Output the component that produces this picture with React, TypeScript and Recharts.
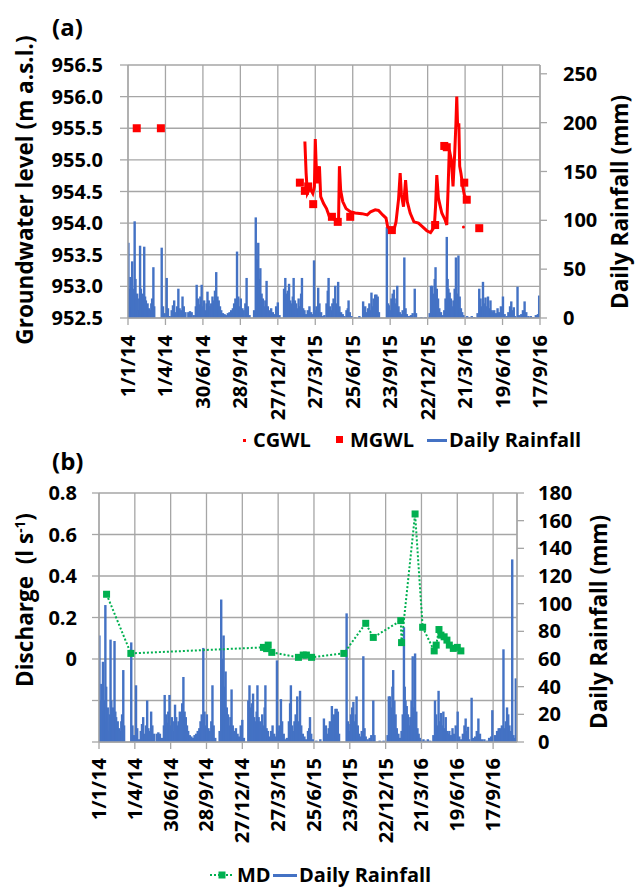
import React from 'react'
import { ComposedChart, Bar, Line, XAxis, YAxis, CartesianGrid } from 'recharts'

// x values are days counted from 1/1/14
const dateTicks = [0, 90, 180, 270, 360, 450, 540, 630, 720, 810, 900, 990]
const dateLabels = ['1/1/14', '1/4/14', '30/6/14', '28/9/14', '27/12/14', '27/3/15', '25/6/15', '23/9/15', '22/12/15', '21/3/16', '19/6/16', '17/9/16']

const gwlTicks = [952.5, 953, 953.5, 954, 954.5, 955, 955.5, 956, 956.5]
const rainTicksA = [0, 50, 100, 150, 200, 250]
const dischargeTicks = [-0.4, -0.2, 0, 0.2, 0.4, 0.6, 0.8]
const rainTicksB = [0, 20, 40, 60, 80, 100, 120, 140, 160, 180]

// daily rainfall (mm): [day, mm]
const rainfall: [number, number][] = [
  [1, 77], [2, 30], [4, 20], [6, 42], [8, 12], [10, 58], [12, 22], [14, 30], [16, 99], [18, 40], [20, 15], [22, 25], [24, 8], [27, 20], [29, 74], [31, 30], [33, 18], [35, 25], [37, 20], [39, 73], [41, 22], [43, 18], [45, 12], [47, 15], [50, 10], [53, 8], [56, 15], [58, 20], [61, 52], [63, 12],
  [81, 72], [84, 12], [88, 5], [93, 41], [96, 10], [100, 2], [105, 8], [108, 13], [111, 18], [114, 6], [118, 12], [121, 30], [124, 10], [128, 8], [131, 22], [134, 12], [138, 6], [145, 6], [149, 7], [153, 6], [158, 3],
  [163, 12], [165, 34], [168, 20], [171, 14], [174, 22], [177, 34], [180, 12], [183, 18], [186, 8], [189, 15], [191, 27], [194, 18], [197, 12], [200, 15], [203, 22], [206, 18], [209, 28], [212, 47], [215, 22], [218, 18], [221, 12], [224, 8], [228, 5], [232, 4], [236, 3], [240, 5], [244, 6], [248, 8], [252, 10], [255, 15], [258, 20], [262, 68], [265, 22], [268, 12], [271, 20], [275, 10], [278, 8], [282, 15], [285, 41], [288, 12], [292, 3],
  [303, 8], [307, 103], [310, 60], [313, 77], [316, 40], [318, 51], [321, 25], [324, 20], [327, 12], [330, 18], [333, 38], [336, 12], [340, 8], [344, 10], [348, 6], [352, 4], [356, 12], [360, 16], [364, 3],
  [375, 30], [378, 41], [381, 25], [384, 28], [387, 35], [390, 18], [393, 15], [396, 22], [398, 41], [401, 18], [404, 15], [407, 10], [410, 20], [413, 12], [416, 25], [418, 41], [421, 10], [424, 8], [428, 4], [432, 8], [436, 12], [440, 6], [444, 4], [447, 59], [450, 8], [453, 12], [457, 31], [460, 15], [464, 6], [468, 2], [472, 3],
  [477, 15], [480, 28], [482, 41], [485, 12], [488, 8], [491, 15], [494, 20], [498, 33], [501, 15], [505, 37], [508, 12], [512, 6], [516, 4], [520, 2], [525, 8], [528, 10], [530, 18], [533, 6], [537, 2],
  [546, 1], [556, 2], [565, 17], [568, 8], [570, 12], [574, 6], [577, 10], [580, 15], [583, 8], [585, 26], [588, 12], [590, 20], [594, 24], [597, 24], [600, 22], [603, 6],
  [622, 93], [625, 15], [627, 13], [630, 8], [633, 20], [636, 25], [639, 29], [642, 15], [645, 20], [647, 33], [650, 12], [653, 6], [656, 4], [660, 8], [664, 62], [667, 10], [670, 4], [675, 2], [680, 3], [684, 5], [689, 30], [692, 5],
  [705, 1], [715, 1], [725, 5], [728, 33], [731, 33], [734, 25], [737, 40], [739, 52], [742, 30], [745, 20], [748, 10], [752, 6], [756, 3], [760, 8], [763, 20], [766, 83], [768, 40], [770, 30], [773, 26], [776, 20], [779, 12], [782, 18], [785, 30], [788, 62], [791, 25], [794, 64], [797, 22], [800, 10], [803, 6], [806, 3], [810, 1], [815, 2], [820, 1], [826, 2], [832, 1],
  [840, 5], [844, 30], [847, 20], [850, 12], [853, 37], [856, 15], [859, 21], [862, 12], [865, 22], [868, 10], [871, 18], [874, 8], [877, 6], [880, 8], [884, 5], [888, 10], [892, 6], [896, 12], [901, 22], [905, 4], [910, 2], [914, 6], [918, 12], [921, 17], [924, 8], [927, 11], [930, 2], [936, 32], [940, 3], [945, 4], [949, 8], [953, 17], [957, 6], [962, 2], [968, 2], [974, 1], [980, 3], [985, 4], [988, 23],
  [995, 5], [1000, 8], [1004, 10], [1008, 10], [1012, 12], [1016, 67], [1019, 10], [1022, 15], [1025, 25], [1028, 20], [1031, 12], [1035, 8], [1038, 132], [1041, 5], [1044, 3], [1047, 46],
]

// continuous groundwater level (m a.s.l.)
const cgwl: [number, number][] = [
  [425, 955.29], [428, 954.79], [431, 954.47], [437, 954.55], [444, 954.47], [448, 954.58], [450, 955.33], [452, 954.95], [455, 954.63], [460, 954.9], [463, 954.42], [470, 954.31], [477, 954.23], [484, 954.1], [494, 954.08], [501, 954.02], [506, 954.05],
  [508, 954.9], [511, 954.52], [516, 954.34], [524, 954.23], [534, 954.18], [546, 954.16], [562, 954.15], [575, 954.13], [583, 954.18], [594, 954.21], [602, 954.2], [612, 954.13], [620, 954.08], [624, 953.94], [631, 953.9], [639, 953.89], [644, 954.02],
  [650, 954.37], [654, 954.79], [657, 954.45], [662, 954.26], [667, 954.68], [671, 954.34], [678, 954.16], [687, 954.02], [698, 954.0], [708, 953.94], [718, 953.88], [727, 953.85], [736, 953.94], [739, 954.26], [742, 954.76], [746, 954.39], [754, 954.16], [762, 954.05], [766, 953.97],
  [769, 954.52], [772, 955.16], [777, 955.0], [781, 954.58], [785, 955.1], [788, 955.58], [790, 956.0], [792, 955.53], [795, 955.58], [797, 954.9], [800, 954.79], [804, 954.6], [808, 954.45], [814, 954.37],
]
const cgwlStray: [number, number][] = [[806, 953.94]]

// manual groundwater level (m a.s.l.)
const mgwl: [number, number][] = [
  [21, 955.5], [79, 955.5], [413, 954.64], [425, 954.51], [433, 954.58], [445, 954.3], [490, 954.1], [504, 954.02], [534, 954.1], [634, 953.89], [738, 953.97], [760, 955.22], [766, 955.2], [808, 954.64], [814, 954.37], [844, 953.92],
]

// measured discharge (l/s)
const md: [number, number][] = [
  [19, 0.312], [80, 0.027], [413, 0.056], [421, 0.05], [425, 0.067], [434, 0.032], [501, 0.008], [513, 0.019], [521, 0.019], [534, 0.008], [615, 0.027], [670, 0.172], [689, 0.104], [758, 0.185], [760, 0.079], [794, 0.699], [813, 0.153], [842, 0.039], [847, 0.067], [854, 0.142], [859, 0.115], [867, 0.107], [874, 0.091], [880, 0.067], [890, 0.051], [900, 0.056], [909, 0.039],
]

const font = "'Open Sans', sans-serif"
const grey = '#a6a6a6'
const blue = '#4472c4'
const red = '#ff0000'
const green = '#00b050'

const rainA = rainfall.filter(([d]) => d <= 990).map(([day, mm]) => ({ day, mm }))
const rainB = rainfall.map(([day, mm]) => ({ day, mm }))
const toLevel = (rows: [number, number][]) => rows.map(([day, level]) => ({ day, level }))

const tickStyle = { fill: '#000', fontSize: 20, fontWeight: 700, fontFamily: font }

const DateTick = ({ x, y, payload }: any) => (
  <text x={x} y={y} transform={`rotate(-90 ${x} ${y})`} textAnchor="end" dy="0.35em"
    fontFamily={font} fontWeight={700} fontSize={20} fill="#000">
    {dateLabels[dateTicks.indexOf(payload.value)]}
  </text>
)

// rainfall drawn as thin spikes, like the daily line in the original
const RainBar = (p: any) => {
  if (!p.height || p.height <= 0) return <g />
  return <rect x={p.x + p.width / 2 - 1.2} y={p.y} width={2.4} height={p.height} fill={blue} />
}

const redSquare = (p: any) => <rect key={p.index} x={p.cx - 4} y={p.cy - 4} width={8} height={8} fill={red} />
const redDot = (p: any) => <circle key={p.index} cx={p.cx} cy={p.cy} r={1.5} fill={red} />
const greenSquare = (p: any) => <rect key={p.index} x={p.cx - 3.5} y={p.cy - 3.5} width={7} height={7} fill={green} />

const VTitle = ({ cx, cy, children }: any) => (
  <div style={{ position: 'absolute', left: cx, top: cy, transform: 'translate(-50%, -50%) rotate(-90deg)', whiteSpace: 'nowrap', fontSize: 22.5, fontWeight: 700, lineHeight: 1 }}>
    {children}
  </div>
)

const Txt = ({ left, cy, size = 20, children }: any) => (
  <div style={{ position: 'absolute', left, top: cy - 14, lineHeight: '28px', fontSize: size, fontWeight: 700, whiteSpace: 'nowrap' }}>
    {children}
  </div>
)

export default function App() {
  return (
    <div style={{ position: 'absolute', left: 0, top: 0, width: 640, height: 887, background: '#fff', fontFamily: font, color: '#000' }}>
      <div style={{ position: 'absolute', left: 0, top: 0 }}>
        <ComposedChart width={640} height={430} data={rainA} margin={{ top: 65, right: 0, bottom: 2, left: 0 }}>
          <CartesianGrid stroke={grey} strokeWidth={1.3} yAxisId="left" />
          <XAxis dataKey="day" type="number" domain={[0, 990]} ticks={dateTicks} interval={0} allowDataOverflow
            height={110} stroke={grey} strokeWidth={1.3} tickSize={7} tickMargin={10} tick={<DateTick />} />
          <YAxis yAxisId="left" domain={[952.5, 956.5]} ticks={gwlTicks} interval={0} allowDataOverflow width={128}
            stroke={grey} strokeWidth={1.3} tickSize={8} tickMargin={17} tick={tickStyle} tickFormatter={(v: number) => v.toFixed(1)} />
          <YAxis yAxisId="right" orientation="right" domain={[0, 259]} ticks={rainTicksA} interval={0} allowDataOverflow width={100}
            stroke={grey} strokeWidth={1.3} tickSize={7} tickMargin={16} tick={tickStyle} />
          <Bar yAxisId="right" dataKey="mm" shape={RainBar} isAnimationActive={false} />
          <Line yAxisId="left" data={toLevel(cgwl)} dataKey="level" stroke={red} strokeWidth={3} dot={false} isAnimationActive={false} />
          <Line yAxisId="left" data={toLevel(cgwlStray)} dataKey="level" stroke="none" dot={redDot} isAnimationActive={false} />
          <Line yAxisId="left" data={toLevel(mgwl)} dataKey="level" stroke="none" dot={redSquare} isAnimationActive={false} />
        </ComposedChart>
      </div>

      <div style={{ position: 'absolute', left: 0, top: 440 }}>
        <ComposedChart width={640} height={447} data={rainB} margin={{ top: 53, right: 0, bottom: 25, left: 0 }}>
          <CartesianGrid stroke={grey} strokeWidth={1.3} yAxisId="left" />
          <XAxis dataKey="day" type="number" domain={[0, 1050]} ticks={dateTicks} interval={0} allowDataOverflow
            height={120} stroke={grey} strokeWidth={1.3} tickSize={7} tickMargin={9} tick={<DateTick />} />
          <YAxis yAxisId="left" domain={[-0.4, 0.8]} ticks={dischargeTicks} interval={0} allowDataOverflow width={99}
            stroke={grey} strokeWidth={1.3} tickSize={7} tickMargin={15} tick={tickStyle}
            tickFormatter={(v: number) => (v < -1e-9 ? '' : Math.abs(v) < 1e-9 ? '0' : v.toFixed(1))} />
          <YAxis yAxisId="right" orientation="right" domain={[0, 180]} ticks={rainTicksB} interval={0} allowDataOverflow width={123}
            stroke={grey} strokeWidth={1.3} tickSize={7} tickMargin={14} tick={tickStyle} />
          <Bar yAxisId="right" dataKey="mm" shape={RainBar} isAnimationActive={false} />
          <Line yAxisId="left" data={toLevel(md)} dataKey="level" stroke={green} strokeWidth={2} strokeDasharray="2 2"
            dot={greenSquare} isAnimationActive={false} />
        </ComposedChart>
      </div>

      {/* panel labels and axis titles */}
      <Txt left={52} cy={27} size={24}>(a)</Txt>
      <Txt left={52} cy={461} size={24}>(b)</Txt>
      <VTitle cx={25} cy={190}>Groundwater level (m a.s.l.)</VTitle>
      <VTitle cx={620} cy={202}>Daily Rainfall (mm)</VTitle>
      <VTitle cx={25} cy={600}>Discharge&nbsp; (l s<sup style={{ fontSize: '0.6em' }}>-1</sup>)</VTitle>
      <VTitle cx={599} cy={622}>Daily Rainfall (mm)</VTitle>

      {/* legend (a) */}
      <div style={{ position: 'absolute', left: 243, top: 439, width: 3, height: 3, background: red }} />
      <Txt left={253} cy={440}>CGWL</Txt>
      <div style={{ position: 'absolute', left: 336, top: 436, width: 7, height: 7, background: red }} />
      <Txt left={350} cy={440}>MGWL</Txt>
      <div style={{ position: 'absolute', left: 427, top: 439, width: 20, height: 2.5, background: blue }} />
      <Txt left={449} cy={440}>Daily Rainfall</Txt>

      {/* legend (b) */}
      <svg style={{ position: 'absolute', left: 208, top: 867 }} width={28} height={16}>
        <line x1={2} y1={8} x2={26} y2={8} stroke={green} strokeWidth={2} strokeDasharray="2 2" />
        <rect x={10.5} y={4.5} width={7} height={7} fill={green} />
      </svg>
      <Txt left={237} cy={875}>MD</Txt>
      <div style={{ position: 'absolute', left: 273, top: 874, width: 24, height: 2.5, background: blue }} />
      <Txt left={299} cy={875}>Daily Rainfall</Txt>
    </div>
  )
}
